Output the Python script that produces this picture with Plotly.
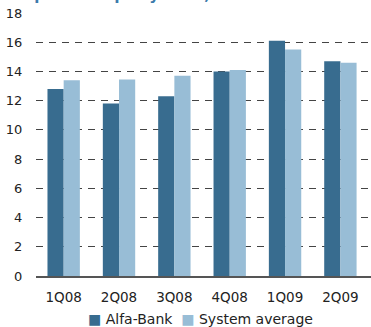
import plotly.graph_objects as go

categories = ["1Q08", "2Q08", "3Q08", "4Q08", "1Q09", "2Q09"]
alfa_bank = [12.8, 11.8, 12.3, 14.0, 16.1, 14.7]
system_avg = [13.4, 13.45, 13.7, 14.1, 15.5, 14.6]
y_ticks = [0, 2, 4, 6, 8, 10, 12, 14, 16, 18]
series_names = ["Alfa-Bank", "System average"]
series_colors = ["#386c8f", "#98bdd6"]

FONT = "DejaVu Sans"

fig = go.Figure()
fig.add_trace(go.Bar(x=categories, y=alfa_bank, name=series_names[0],
                     marker=dict(color=series_colors[0], line=dict(width=0))))
fig.add_trace(go.Bar(x=categories, y=system_avg, name=series_names[1],
                     marker=dict(color=series_colors[1], line=dict(width=0))))
fig.add_trace(go.Scatter(x=[categories[0]], y=[None], yaxis="y2", showlegend=False,
                         hoverinfo="skip"))

legend_text = "  ".join(
    f"<span style='color:{c}'>■</span> {n}" for n, c in zip(series_names, series_colors)
)

fig.update_layout(
    width=371, height=327,
    margin=dict(l=36, r=0, t=13, b=51, autoexpand=False),
    paper_bgcolor="white", plot_bgcolor="white",
    barmode="group", bargap=0.415, bargroupgap=0,
    font=dict(family=FONT, size=13, color="#222"),
    showlegend=False,
    xaxis=dict(type="category", range=[-0.5, 5.553], showgrid=False,
               showline=True, linecolor="#555", linewidth=1.5,
               ticks="outside", ticklen=8, tickcolor="rgba(0,0,0,0)",
               tickfont=dict(size=13.5, color="#222")),
    yaxis=dict(range=[0, 18], tickvals=y_ticks[:-1], showgrid=True,
               gridcolor="#444", griddash="7px,6px", gridwidth=1,
               zeroline=False, showline=False,
               ticks="outside", ticklen=10, tickcolor="rgba(0,0,0,0)",
               tickfont=dict(size=13, color="#222")),
    yaxis2=dict(range=[0, 18], tickvals=[18], overlaying="y", side="left",
                showgrid=True, gridcolor="#cccccc", griddash="7px,6px",
                zeroline=False, showline=False,
                ticks="outside", ticklen=10, tickcolor="rgba(0,0,0,0)",
                tickfont=dict(size=13, color="#222")),
    annotations=[
        dict(text="<b>Capital adequacy ratio, %</b>", xref="paper", yref="paper",
             x=-0.075, xanchor="left", y=1.027, yanchor="bottom", showarrow=False,
             font=dict(family=FONT, size=15, color="#3d7bab")),
        dict(text=legend_text, xref="paper", yref="paper",
             x=0.49, xanchor="center", y=-0.165, yanchor="middle", showarrow=False,
             font=dict(family=FONT, size=14, color="#222")),
    ],
)

fig.write_html("out.html")
